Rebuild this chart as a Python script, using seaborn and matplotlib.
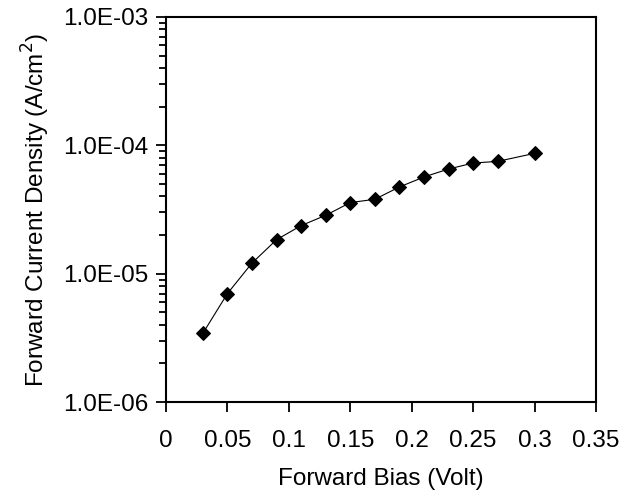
import numpy as np
import pandas as pd
import matplotlib
matplotlib.use("Agg")
import matplotlib.pyplot as plt
import matplotlib.ticker as mticker
import seaborn as sns

sns.set_style("ticks")
plt.rcParams["font.family"] = ["Liberation Sans", "DejaVu Sans"]
plt.rcParams["text.color"] = "black"
plt.rcParams["axes.labelcolor"] = "black"
plt.rcParams["xtick.color"] = "black"
plt.rcParams["ytick.color"] = "black"

# Forward bias (V) and current density (A/cm^2).
bias = [0.03, 0.05, 0.07, 0.09, 0.11, 0.13, 0.15, 0.17, 0.19, 0.21, 0.23, 0.25, 0.27, 0.30]
current = [3.43e-6, 7.0e-6, 1.21e-5, 1.84e-5, 2.37e-5, 2.85e-5, 3.58e-5, 3.80e-5,
           4.74e-5, 5.67e-5, 6.54e-5, 7.28e-5, 7.50e-5, 8.66e-5]

df = pd.DataFrame({"Bias": bias, "Current": current})

fig = plt.figure(figsize=(6.25, 4.97), dpi=100)
ax = fig.add_axes([0.2656, 0.1911, 0.688, 0.7747])

sns.lineplot(data=df, x="Bias", y="Current", ax=ax, color="black", linewidth=0.8,
             marker="D", markersize=7, markeredgecolor="black", markerfacecolor="black")

ax.set_yscale("log")
ax.set_xlim(0, 0.35)
ax.set_ylim(1e-6, 1e-3)
ax.set_xticks(np.arange(0, 0.351, 0.05))
ax.xaxis.set_major_formatter(mticker.FuncFormatter(lambda v, p: "0" if v == 0 else f"{v:.2f}".rstrip("0")))
ax.yaxis.set_major_locator(mticker.LogLocator(base=10, numticks=10))
ax.yaxis.set_minor_locator(mticker.LogLocator(base=10, subs=np.arange(2, 10), numticks=10))
ax.yaxis.set_minor_formatter(mticker.NullFormatter())
ax.yaxis.set_major_formatter(mticker.FuncFormatter(lambda v, p: f"{v:.1E}"))

for s in ax.spines.values():
    s.set_linewidth(1.5)
    s.set_color("black")

ax.tick_params(axis="both", which="major", direction="out", width=1.3, length=7,
               labelsize=17.5, color="black", labelcolor="black")
ax.tick_params(axis="x", pad=13)
ax.tick_params(axis="y", pad=6)
ax.tick_params(axis="y", which="minor", direction="out", width=1.3, length=5, color="black")

ax.set_xlabel("Forward Bias (Volt)", fontsize=17.5, labelpad=12, color="black")
ax.set_ylabel("Forward Current Density (A/cm$^2$)", fontsize=17.5, labelpad=8, color="black")

fig.savefig("out.png", dpi=100)
